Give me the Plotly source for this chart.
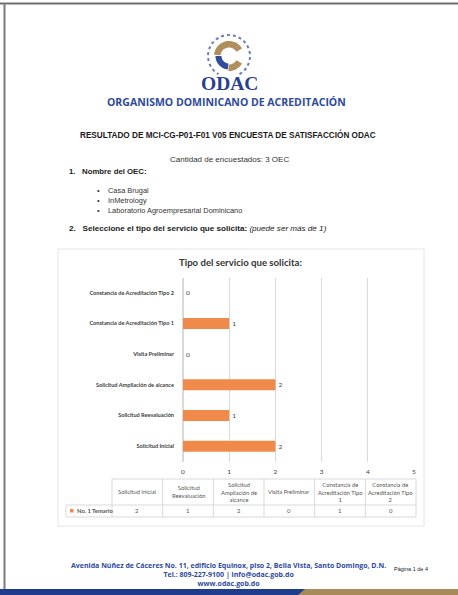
import math
import plotly.graph_objects as go

# ---------------- data ----------------
categories = [
    "Solicitud Inicial",
    "Solicitud Reevaluación",
    "Solicitud Ampliación de alcance",
    "Visita Preliminar",
    "Constancia de Acreditación Tipo 1",
    "Constancia de Acreditación Tipo 2",
]
values = [2, 1, 2, 0, 1, 0]
x_ticks = [0, 1, 2, 3, 4, 5]
series_name = "No. 1 Temario"
table_headers = [
    "Solicitud Inicial",
    "Solicitud<br>Reevaluación",
    "Solicitud<br>Ampliación de<br>alcance",
    "Visita Preliminar",
    "Constancia de<br>Acreditación Tipo<br>1",
    "Constancia de<br>Acreditación Tipo<br>2",
]
oec_names = ["Casa Brugal", "InMetrology", "Laboratorio Agroempresarial Dominicano"]
footer_lines = [
    "Avenida Núñez de Cáceres No. 11, edificio Equinox, piso 2, Bella Vista, Santo Domingo, D.N.",
    "Tel.: 809-227-9100 | info@odac.gob.do",
    "www.odac.gob.do",
]

# ---------------- layout helpers ----------------
W, H = 458, 595
def X(p):
    return p / W
def Y(p):
    return 1 - p / H

ORANGE = "#F08A4B"
BLUE = "#2E4A9E"
GOLD = "#B08F5C"
GRID = "#D9D9D9"
TXT = "#404040"
BODY = "Liberation Sans, Arial, sans-serif"
CAL = "Lato, Carlito, Calibri, sans-serif"

fig = go.Figure()
fig.add_trace(go.Bar(
    x=values, y=categories, orientation="h", name=series_name,
    marker=dict(color=ORANGE, line=dict(width=0)), width=0.36,
    text=[str(v) for v in values], textposition="outside",
    textfont=dict(size=6.5, color=TXT, family=CAL), cliponaxis=False,
    showlegend=False,
))

shapes = []
ann = []

def line(x0, y0, x1, y1, color=GRID, w=1):
    shapes.append(dict(type="line", xref="paper", yref="paper",
                       x0=X(x0), y0=Y(y0), x1=X(x1), y1=Y(y1),
                       line=dict(color=color, width=w)))

def text(x, y, s, size, color="#222", family=BODY, xanchor="center", bold=False):
    if bold:
        s = "<b>" + s + "</b>"
    ann.append(dict(x=X(x), y=Y(y), xref="paper", yref="paper", text=s,
                    showarrow=False, xanchor=xanchor, yanchor="middle",
                    borderpad=0,
                    font=dict(size=size, color=color, family=family)))

# page border
line(0, 3.5, 458, 3.5, "#6E6E6E", 2)
line(4.5, 3, 4.5, 595, "#7A7A7A", 2)

# logo emblem
def arc_path(cx, cy, ro, ri, a0, a1, n=28):
    pts = []
    for k in range(n + 1):
        a = math.radians(a0 + (a1 - a0) * k / n)
        pts.append((cx + ro * math.cos(a), cy - ro * math.sin(a)))
    for k in range(n + 1):
        a = math.radians(a1 + (a0 - a1) * k / n)
        pts.append((cx + ri * math.cos(a), cy - ri * math.sin(a)))
    return "M " + " L ".join(f"{X(px):.5f},{Y(py):.5f}" for px, py in pts) + " Z"

cx, cy = 229, 56
shapes.append(dict(type="path", xref="paper", yref="paper",
                   path=arc_path(cx, cy, 15, 8.5, 30, 175), fillcolor=GOLD,
                   line=dict(width=0)))
shapes.append(dict(type="path", xref="paper", yref="paper",
                   path=arc_path(cx, cy, 13.5, 7.5, 180, 265), fillcolor="#2F4D9A",
                   line=dict(width=0)))
shapes.append(dict(type="path", xref="paper", yref="paper",
                   path=arc_path(cx, cy, 15, 8.5, 268, 330), fillcolor=GOLD,
                   line=dict(width=0)))
ring = []
for k in range(0, 41):
    a = math.radians(-60 + 300 * k / 40)
    ring.append((cx + 21 * math.cos(a), cy - 21 * math.sin(a)))
shapes.append(dict(type="path", xref="paper", yref="paper",
                   path="M " + " L ".join(f"{X(px):.5f},{Y(py):.5f}" for px, py in ring),
                   line=dict(color="#6F7FB5", width=2, dash="dot")))

text(229, 83.5, "ODAC", 19.5, "#2A3F8F", "Liberation Serif, Times New Roman, serif", bold=True)
text(226, 101.5, "ORGANISMO DOMINICANO DE ACREDITACIÓN", 10.5, BLUE, "Open Sans, sans-serif", bold=True)

# document text
text(228, 134, "RESULTADO DE MCI-CG-P01-F01 V05 ENCUESTA DE SATISFACCIÓN ODAC", 8.2, "#1a1a1a", bold=True)
text(229, 160, "Cantidad de encuestados: 3 OEC", 8.0, "#333")
text(68, 171, "<b>1.   Nombre del OEC:</b>", 7.8, "#1a1a1a", xanchor="left")
for i, name in enumerate(oec_names):
    yy = 191 + i * 9.5
    text(96, yy, "•", 7.5, "#333", xanchor="left")
    text(107, yy, name, 7.4, "#333", xanchor="left")
text(68, 229, "<b>2.   Seleccione el tipo del servicio que solicita:</b> <i>(puede ser más de 1)</i>",
     8.1, "#1a1a1a", xanchor="left")

# chart box
shapes.append(dict(type="rect", xref="paper", yref="paper",
                   x0=X(58), y0=Y(249), x1=X(424), y1=Y(526),
                   line=dict(color="#E4E4E4", width=1)))
text(241, 262, "Tipo del servicio que solicita:", 9.6, "#333", CAL, bold=True)

# data table
col_left, col_right = 112, 416
ncol = len(categories)
col_w = (col_right - col_left) / ncol
t_top, t_mid, t_bot = 479, 505, 517
line(col_left, t_top, col_right, t_top)
line(66, t_mid, col_right, t_mid)
line(66, t_bot, col_right, t_bot)
line(66, t_mid, 66, t_bot)
for i in range(ncol + 1):
    xx = col_left + i * col_w
    line(xx, t_top, xx, t_bot)
for i, (hd, v) in enumerate(zip(table_headers, values)):
    ccx = col_left + (i + 0.5) * col_w
    text(ccx, (t_top + t_mid) / 2, hd, 5.8, "#555", CAL)
    text(ccx, (t_mid + t_bot) / 2, str(v), 6, "#555", CAL)
shapes.append(dict(type="rect", xref="paper", yref="paper",
                   x0=X(70), y0=Y(509), x1=X(73.5), y1=Y(512.5),
                   fillcolor=ORANGE, line=dict(width=0)))
text(75.5, 511, series_name, 5.8, "#555", CAL, xanchor="left", bold=True)

# footer (one block of centred lines)
ann.append(dict(x=X(228), y=Y(574), xref="paper", yref="paper",
                text="<b>" + "<br>".join(footer_lines) + "</b>", align="center",
                showarrow=False, xanchor="center", yanchor="middle", borderpad=0,
                font=dict(size=7.0, color=BLUE, family="Open Sans, sans-serif")))
text(411, 569, "Página 1 de 4", 5.5, "#222", BODY)

# bottom band
shapes.append(dict(type="rect", xref="paper", yref="paper",
                   x0=0, y0=0, x1=X(305), y1=Y(589), fillcolor="#1F3C8C", line=dict(width=0)))
shapes.append(dict(type="path", xref="paper", yref="paper",
                   path=f"M {X(298)},{Y(595)} L {X(305)},{Y(589)} L 1,{Y(589)} L 1,{Y(595)} Z",
                   fillcolor="#A8895A", line=dict(width=0)))

fig.update_layout(
    width=W, height=H, margin=dict(l=0, r=0, t=0, b=0),
    paper_bgcolor="white", plot_bgcolor="white",
    shapes=shapes, annotations=ann, bargap=0.6,
    xaxis=dict(domain=[X(183), X(414)], range=[0, 5], tickvals=x_ticks,
               showgrid=True, gridcolor=GRID, gridwidth=1, zeroline=True,
               zerolinecolor=GRID, showline=False, ticks="",
               tickfont=dict(size=6.5, color=TXT, family=CAL),
               ticklabelstandoff=5, automargin=False, fixedrange=True),
    yaxis=dict(domain=[Y(461.5), Y(277.5)], categoryorder="array",
               categoryarray=categories, tickvals=categories,
               ticktext=["<b>" + c + "</b>" for c in categories],
               showgrid=False, zeroline=False,
               showline=False, ticks="",
               tickfont=dict(size=5.6, color=TXT, family=CAL),
               ticklabelstandoff=8, automargin=False, fixedrange=True),
    font=dict(family=BODY),
)

fig.write_html("out.html")
